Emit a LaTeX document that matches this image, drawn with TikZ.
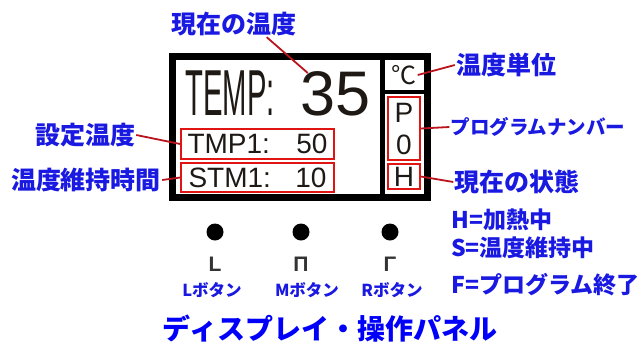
\documentclass[tikz,border=0pt]{standalone}
\usepackage{fontspec}
\setmainfont{Liberation Sans}
\newfontfamily\jp{Noto Sans CJK JP}
\usepackage{xcolor}
\usetikzlibrary{positioning,calc}
\definecolor{lblblue}{RGB}{25,25,225}
\definecolor{ttlblue}{RGB}{0,0,250}
\definecolor{boxred}{RGB}{225,20,20}
\definecolor{leadred}{RGB}{185,20,30}
\definecolor{lcdtext}{RGB}{30,25,20}

\begin{document}
\begin{tikzpicture}[
    x=1pt, y=-1pt,
    frame/.style={draw=black, line width=7pt, minimum width=255pt, minimum height=141pt, inner sep=0pt},
    redbox/.style={draw=boxred, line width=1.6pt, inner sep=0pt, text=lcdtext},
    lcd/.style={text=lcdtext, inner sep=1pt},
    lbl/.style={text=lblblue, inner sep=1pt, font=\jp\bfseries\fontsize{25}{25}\selectfont},
    lgd/.style={text=lblblue, inner sep=0pt, anchor=west, font=\jp\bfseries\fontsize{23}{23}\selectfont},
    lead/.style={draw=leadred, line width=1.8pt},
    btn/.style={circle, fill=black, minimum size=17pt, inner sep=0pt},
    seg/.style={text=black!80, inner sep=0pt, font=\bfseries\fontsize{21}{21}\selectfont},
    btnlbl/.style={text=lblblue, inner sep=0pt, font=\jp\bfseries\fontsize{16.5}{16.5}\selectfont},
]
    \useasboundingbox (0,0) rectangle (640,346);

    % Display
    \node[frame] (disp) at (300,127) {};
    \draw[line width=5pt] (382.5,56.5) -- (382.5,197.5);
    \draw[line width=4pt] (382.5,92) -- (427.5,92);

    \node[lcd, font=\fontsize{65}{65}\selectfont] (tempTxt) at (230,93.5) {\scalebox{0.45}[1]{TEMP:}};
    \node[lcd, font=\fontsize{63}{63}\selectfont] (val) at (336,93.5) {35};

    \node[redbox, minimum width=153pt, minimum height=30pt, font=\fontsize{28}{28}\selectfont] (tmp) at (257.5,144) {\makebox[140pt]{TMP1:\hfill 50}};
    \node[redbox, minimum width=153pt, minimum height=29pt, font=\fontsize{28}{28}\selectfont] (stm) at (257.5,177.5) {\makebox[138pt]{STM1:\hfill 10}};

    \node[lcd, font=\jp\fontsize{25}{25}\selectfont] (unit) at (404,75) {℃};
    \node[redbox, minimum width=32pt, minimum height=63pt] (prog) at (404,128.5) {};
    \node[lcd, font=\fontsize{28}{28}\selectfont] (pCh) at (404,113) {P};
    \node[lcd, font=\fontsize{28}{28}\selectfont] (zCh) at (404,145) {0};
    \node[redbox, minimum width=32pt, minimum height=25pt, font=\fontsize{28}{28}\selectfont] (state) at (404,176.5) {H};

    % Labels
    \node[lbl] (curT) at (234,24) {現在の温度};
    \node[lbl] (setT) at (85,135) {設定温度};
    \node[lbl] (stmT) at (86,180) {温度維持時間};
    \node[lbl] (unitT) at (506,65) {温度単位};
    \node[lbl, font=\jp\bfseries\fontsize{19.5}{19.5}\selectfont] (progT) at (538,127) {プログラムナンバー};
    \node[lbl] (stateT) at (517,182) {現在の状態};

    \draw[lead] ([xshift=-31pt]curT.south east) -- ([xshift=8pt,yshift=-3pt]val.north west);
    \draw[lead] (setT.east) -- (tmp.west);
    \draw[lead] (stmT.east) -- (stm.west);
    \draw[lead] (unit.east) -- (unitT.west);
    \draw[lead] (prog.east) -- (progT.west);
    \draw[lead] (state.east) -- (stateT.west);

    % State legend
    \node[lgd] (hLeg) at (451,220) {H=加熱中};
    \node[lgd] (sLeg) at (451,248) {S=温度維持中};
    \node[lgd] (fLeg) at (451,285) {F=プログラム終了};

    % Buttons
    \node[btn] (lBtn) at (215,232) {};
    \node[btn] (mBtn) at (301,232) {};
    \node[btn] (rBtn) at (390,232) {};
    \node[seg] (lSeg) at (215,264) {L};
    \node[seg] (mSeg) at (301,264) {Π};
    \node[seg] (rSeg) at (390,264) {Γ};
    \node[btnlbl] (lLbl) at (212,290) {Lボタン};
    \node[btnlbl] (mLbl) at (307,290) {Mボタン};
    \node[btnlbl] (rLbl) at (392,290) {Rボタン};

    \node[text=ttlblue, font=\jp\bfseries\fontsize{28}{28}\selectfont] (title) at (330,329) {ディスプレイ・操作パネル};
\end{tikzpicture}
\end{document}
